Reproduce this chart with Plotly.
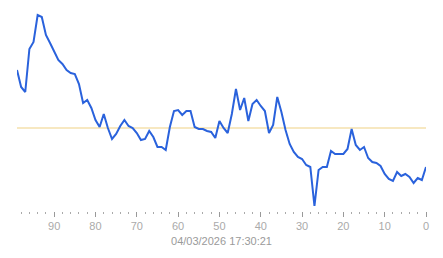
import plotly.graph_objects as go

# x positions: seconds/ticks ago (99 .. 0)
x_vals = list(range(99, -1, -1))
# series values (baseline = 100)
y_vals = [158, 141, 136, 179, 186, 213, 211, 193, 185, 176,
          168, 164, 158, 155, 154, 144, 125, 128, 120, 108,
          101, 114, 100, 89, 94, 102, 108, 102, 100, 95,
          88, 89, 97, 91, 81, 81, 78, 101, 117, 118,
          113, 117, 117, 101, 99, 99, 97, 96, 90, 107,
          100, 95, 114, 139, 118, 130, 107, 124, 128, 122,
          117, 95, 103, 131, 116, 98, 84, 76, 71, 69,
          63, 61, 22, 58, 61, 61, 77, 74, 74, 74,
          79, 99, 83, 78, 81, 70, 66, 65, 62, 54,
          49, 47, 56, 52, 54, 51, 45, 50, 48, 61]
baseline = 100
x_title = "04/03/2026 17:30:21"
major_ticks = [90, 80, 70, 60, 50, 40, 30, 20, 10, 0]

fig = go.Figure()
fig.add_trace(go.Scatter(
    x=x_vals, y=y_vals, mode="lines",
    line=dict(color="#2a62dc", width=2),
    hoverinfo="skip", showlegend=False,
))
fig.add_shape(type="line", xref="paper", x0=0, x1=1, yref="y",
              y0=baseline, y1=baseline,
              line=dict(color="#efd184", width=1.2), layer="below")

fig.update_layout(
    width=443, height=258,
    margin=dict(l=17, r=17, t=5, b=47),
    paper_bgcolor="white", plot_bgcolor="white",
    font=dict(family="Liberation Sans, Arial, sans-serif", size=11, color="#a0a0a0"),
    xaxis=dict(
        range=[99, 0], showgrid=False, zeroline=False, showline=False,
        tickmode="array", tickvals=major_ticks,
        ticks="outside", ticklen=5, tickwidth=1, tickcolor="#999999",
        tickfont=dict(size=11, color="#aaaaaa"),
        minor=dict(dtick=2, tick0=0, ticks="outside", ticklen=2,
                   tickwidth=1, tickcolor="#aaaaaa", showgrid=False),
        title=dict(text=x_title, font=dict(size=11, color="#9a9a9a"), standoff=6),
    ),
    yaxis=dict(range=[17, 223], visible=False, showgrid=False, zeroline=False),
)

fig.write_html("out.html")
